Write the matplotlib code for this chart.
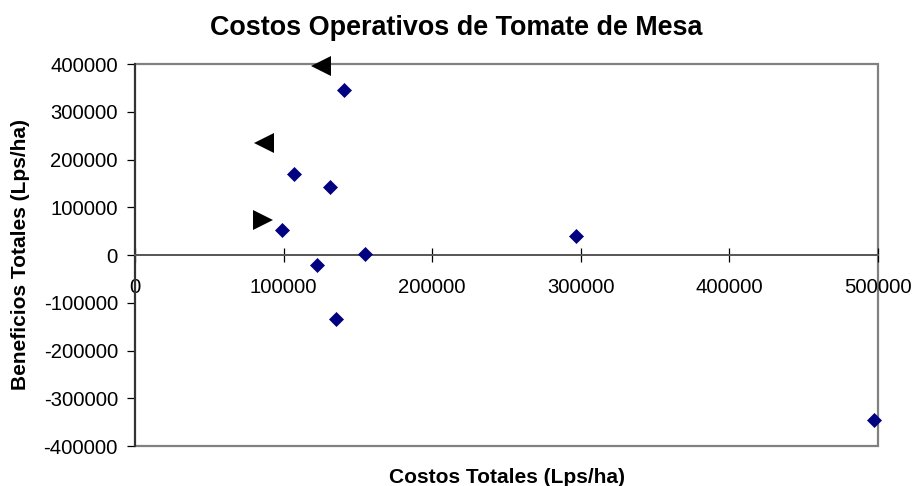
import matplotlib
matplotlib.use('Agg')
import matplotlib.pyplot as plt
from matplotlib.patches import Rectangle

plt.rcParams['font.family'] = ['Liberation Sans', 'DejaVu Sans']

# puntos (diamantes azules)
costos = [140400, 107100, 130900, 98900, 122400, 154500, 135200, 297000, 497100]
beneficios = [345300, 170600, 142600, 51800, -21600, 1500, -134800, 39800, -346500]

# triangulos negros
tri_izq_x = [125500, 86600]
tri_izq_y = [395600, 234800]
tri_der_x = [86000]
tri_der_y = [73400]

xticks = [0, 100000, 200000, 300000, 400000, 500000]
yticks = [-400000, -300000, -200000, -100000, 0, 100000, 200000, 300000, 400000]

fig = plt.figure(figsize=(9.13, 4.86), dpi=100)
ax = fig.add_axes([135/913, 1-446/486, (878-135)/913, (446-64)/486])

ax.plot(costos, beneficios, 'D', color='#000080', ms=7.3, mew=0.5, clip_on=False, zorder=5)
ax.plot(tri_izq_x, tri_izq_y, '<', color='black', ms=15, mew=0, clip_on=False, zorder=5)
ax.plot(tri_der_x, tri_der_y, '>', color='black', ms=15, mew=0, clip_on=False, zorder=5)

ax.set_xlim(0, 500000)
ax.set_ylim(-400000, 400000)
ax.set_xticks(xticks)
ax.set_yticks(yticks)
ax.set_xticklabels([str(v) for v in xticks])
ax.set_yticklabels([str(v) for v in yticks])

# borde del area de trazado
for s in ['top', 'right']:
    ax.spines[s].set_visible(False)
ax.add_patch(Rectangle((0, 0), 1, 1, transform=ax.transAxes, fill=False,
                       edgecolor='#808080', lw=1.6, clip_on=False, zorder=1))
ax.spines['bottom'].set_position(('data', 0))
ax.spines['bottom'].set_color('#555555')
ax.spines['bottom'].set_linewidth(1.4)
ax.spines['left'].set_color('#333333')
ax.spines['left'].set_linewidth(1.5)
ax.spines['left'].set_zorder(2)

ax.tick_params(axis='x', direction='inout', length=9.4, width=0.9, pad=11.5, labelsize=14.6, color='black')
ax.tick_params(axis='y', direction='out', length=5.8, width=0.9, pad=6.5, labelsize=14.6, color='black')

fig.text(0.5, 1-35/486, 'Costos Operativos de Tomate de Mesa', ha='center', va='baseline',
         fontsize=19.4, fontweight='bold')
fig.text(506.5/913, 1-483/486, 'Costos Totales (Lps/ha)', ha='center', va='baseline',
         fontsize=15, fontweight='bold')
fig.text(21/913, 1-255/486, 'Beneficios Totales (Lps/ha)', ha='center', va='center',
         rotation=90, fontsize=15, fontweight='bold')

fig.savefig('out.png', dpi=100)
